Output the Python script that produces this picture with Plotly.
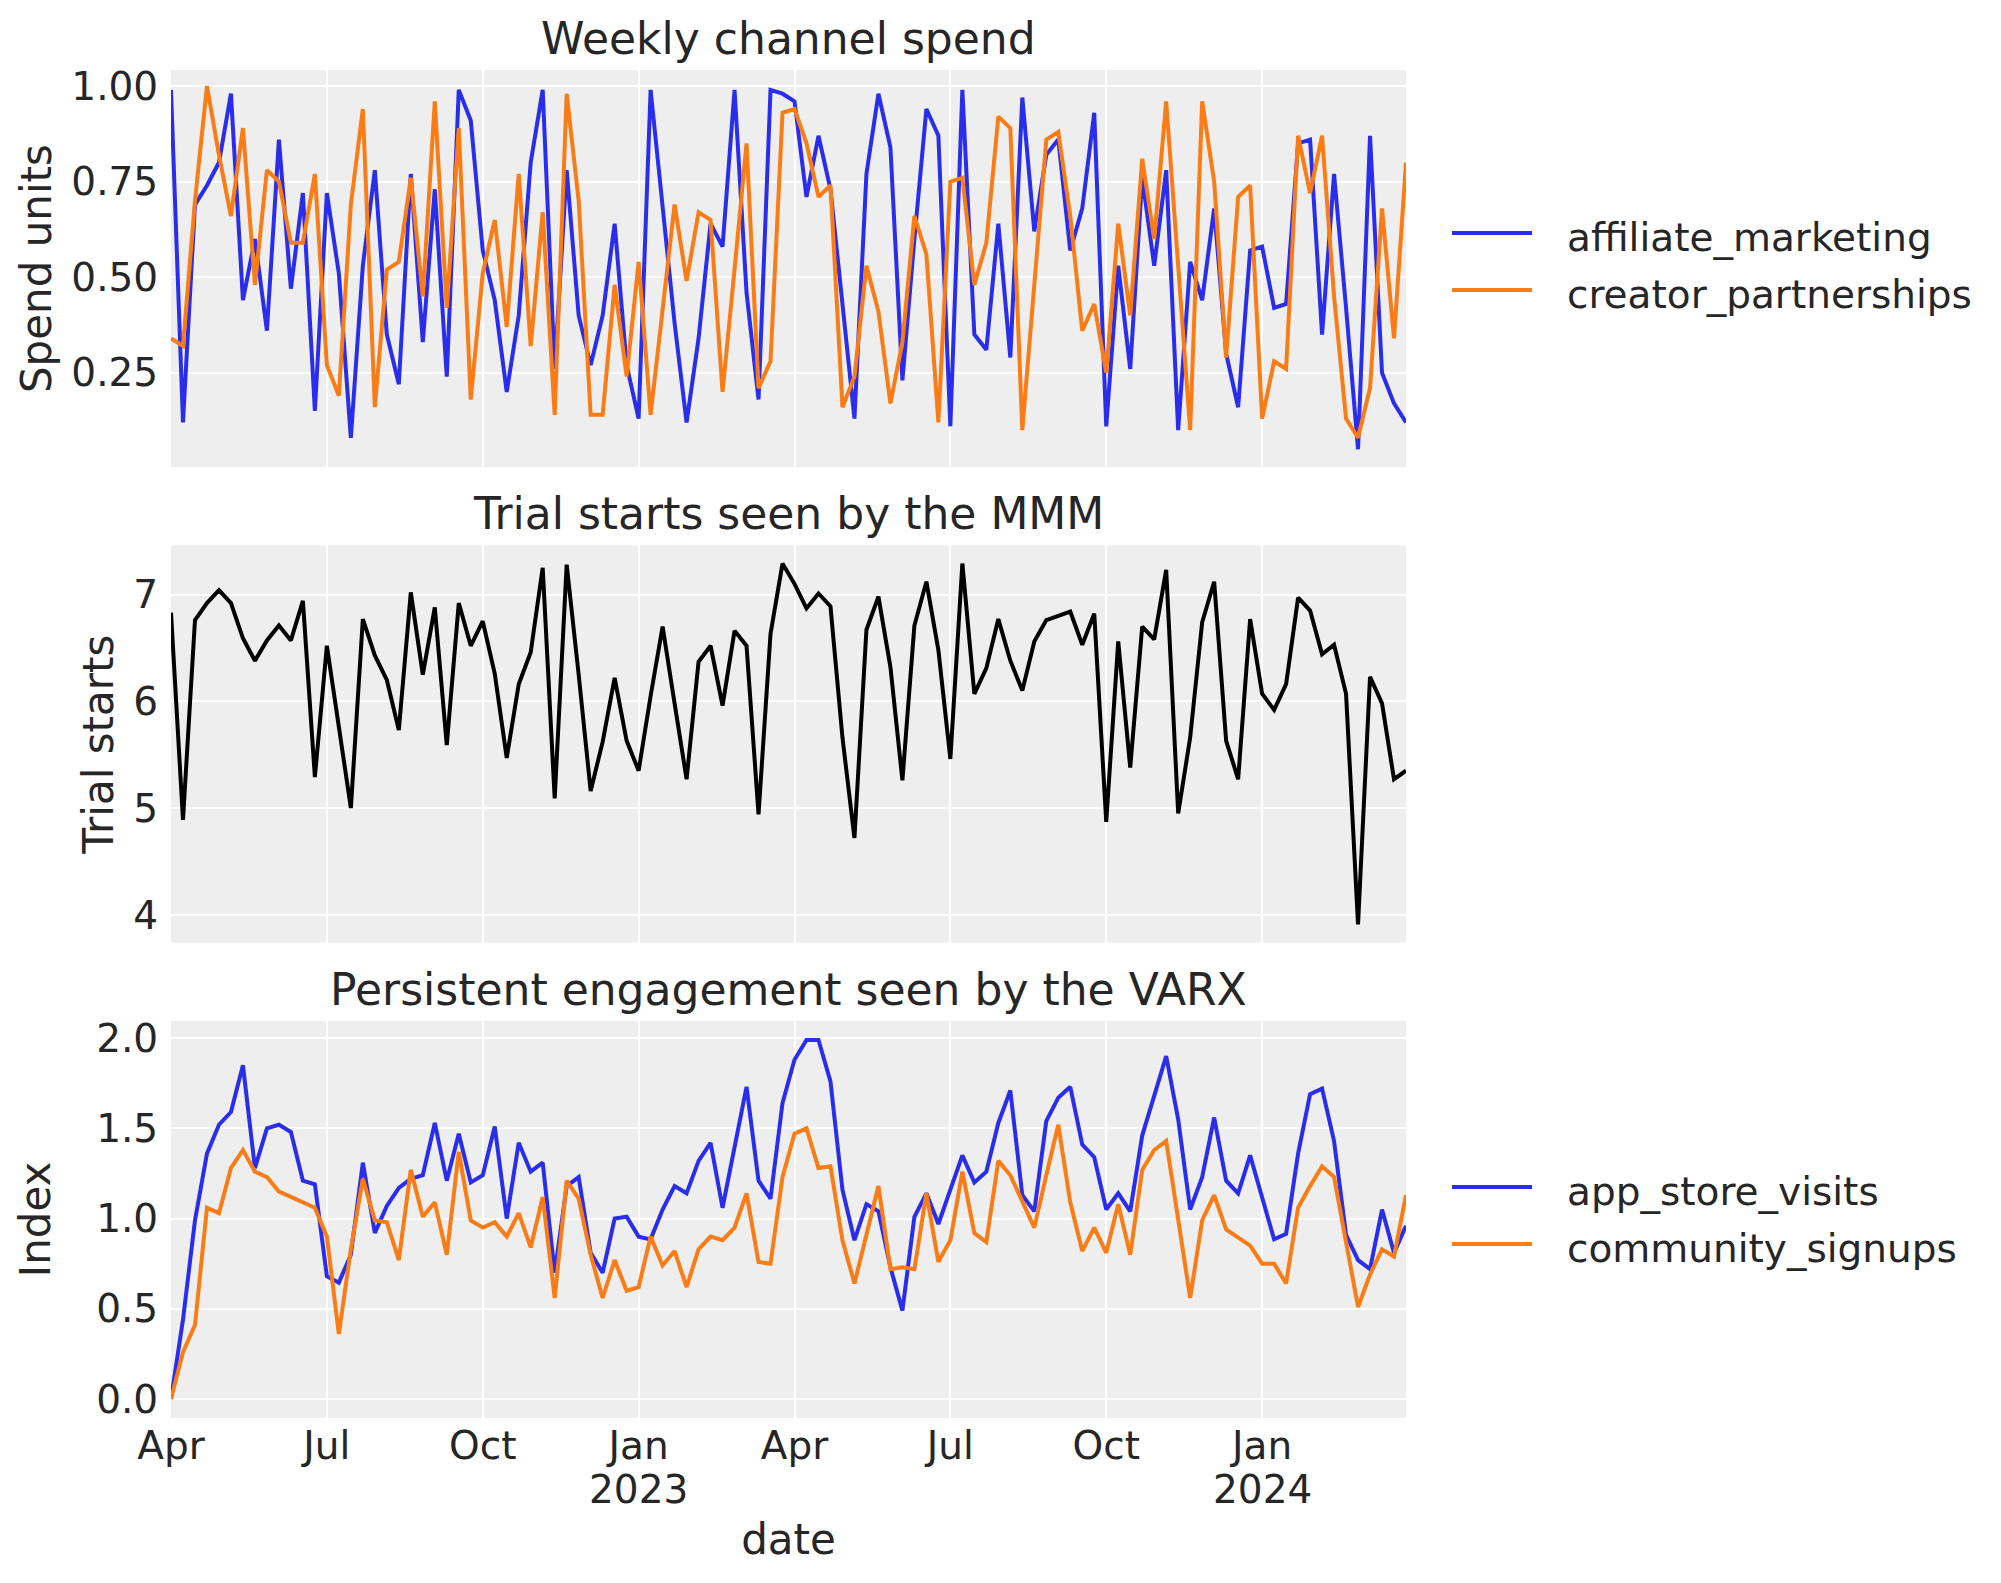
"""Weekly spend, trial starts and engagement - three stacked panels."""

import pandas as pd
import plotly.graph_objects as go
from plotly.subplots import make_subplots


# Weekly dates (104 weeks)
dates = pd.date_range("2022-04-03", periods=104, freq="W-SUN")

affiliate_marketing = [
    0.99, 0.12, 0.69, 0.74, 0.80, 0.98, 0.44, 0.60, 0.36, 0.86,
    0.47, 0.72, 0.15, 0.72, 0.51, 0.08, 0.53, 0.78, 0.35, 0.22,
    0.77, 0.33, 0.73, 0.24, 0.99, 0.91, 0.57, 0.44, 0.20, 0.40,
    0.80, 0.99, 0.26, 0.78, 0.40, 0.27, 0.40, 0.64, 0.27, 0.13,
    0.99, 0.68, 0.38, 0.12, 0.34, 0.64, 0.58, 0.99, 0.46, 0.18,
    0.99, 0.98, 0.96, 0.71, 0.87, 0.73, 0.43, 0.13, 0.77, 0.98,
    0.84, 0.23, 0.60, 0.94, 0.87, 0.11, 0.99, 0.35, 0.31, 0.64,
    0.29, 0.97, 0.62, 0.82, 0.86, 0.57, 0.68, 0.93, 0.11, 0.53,
    0.26, 0.76, 0.53, 0.78, 0.10, 0.54, 0.44, 0.68, 0.30, 0.16,
    0.57, 0.58, 0.42, 0.43, 0.85, 0.86, 0.35, 0.77, 0.42, 0.05,
    0.87, 0.25, 0.17, 0.12,
]

creator_partnerships = [
    0.34, 0.32, 0.70, 1.00, 0.82, 0.66, 0.89, 0.48, 0.78, 0.75,
    0.59, 0.59, 0.77, 0.27, 0.19, 0.69, 0.94, 0.16, 0.52, 0.54,
    0.76, 0.45, 0.96, 0.42, 0.89, 0.18, 0.51, 0.65, 0.37, 0.77,
    0.32, 0.67, 0.14, 0.98, 0.70, 0.14, 0.14, 0.48, 0.24, 0.54,
    0.14, 0.42, 0.69, 0.49, 0.67, 0.65, 0.20, 0.52, 0.85, 0.21,
    0.28, 0.93, 0.94, 0.85, 0.71, 0.74, 0.16, 0.24, 0.53, 0.41,
    0.17, 0.33, 0.66, 0.56, 0.12, 0.75, 0.76, 0.48, 0.59, 0.92,
    0.89, 0.10, 0.48, 0.86, 0.88, 0.66, 0.36, 0.43, 0.25, 0.64,
    0.40, 0.81, 0.60, 0.96, 0.53, 0.10, 0.96, 0.75, 0.29, 0.71,
    0.74, 0.13, 0.28, 0.26, 0.87, 0.72, 0.87, 0.45, 0.13, 0.08,
    0.21, 0.68, 0.34, 0.80,
]

trial_starts = [
    6.83, 4.89, 6.76, 6.92, 7.04, 6.92, 6.59, 6.38, 6.57, 6.71,
    6.57, 6.94, 5.29, 6.52, 5.76, 5.00, 6.77, 6.43, 6.20, 5.73,
    7.02, 6.25, 6.88, 5.59, 6.92, 6.52, 6.75, 6.26, 5.47, 6.16,
    6.46, 7.25, 5.09, 7.28, 6.25, 5.16, 5.62, 6.22, 5.63, 5.35,
    6.05, 6.70, 5.98, 5.27, 6.37, 6.52, 5.96, 6.66, 6.52, 4.94,
    6.63, 7.29, 7.10, 6.87, 7.01, 6.89, 5.66, 4.72, 6.67, 6.98,
    6.32, 5.26, 6.71, 7.12, 6.48, 5.46, 7.29, 6.07, 6.31, 6.77,
    6.38, 6.10, 6.56, 6.76, 6.80, 6.84, 6.53, 6.82, 4.87, 6.56,
    5.38, 6.70, 6.58, 7.23, 4.95, 5.66, 6.74, 7.12, 5.63, 5.27,
    6.77, 6.07, 5.92, 6.16, 6.97, 6.85, 6.44, 6.53, 6.07, 3.91,
    6.23, 5.98, 5.27, 5.35,
]

app_store_visits = [
    0.00, 0.44, 0.99, 1.36, 1.52, 1.59, 1.85, 1.28, 1.50, 1.52,
    1.48, 1.21, 1.19, 0.68, 0.645, 0.80, 1.31, 0.92, 1.07, 1.17,
    1.22, 1.24, 1.53, 1.21, 1.47, 1.20, 1.24, 1.51, 1.00, 1.42,
    1.26, 1.31, 0.70, 1.18, 1.23, 0.81, 0.70, 1.00, 1.01, 0.90,
    0.885, 1.05, 1.18, 1.14, 1.32, 1.42, 1.06, 1.40, 1.73, 1.21,
    1.11, 1.64, 1.88, 1.99, 1.99, 1.76, 1.16, 0.88, 1.08, 1.04,
    0.73, 0.49, 1.01, 1.14, 0.97, 1.16, 1.35, 1.20, 1.26, 1.53,
    1.71, 1.13, 1.04, 1.54, 1.67, 1.73, 1.41, 1.34, 1.05, 1.14,
    1.04, 1.46, 1.68, 1.90, 1.55, 1.05, 1.23, 1.56, 1.21, 1.14,
    1.35, 1.11, 0.885, 0.915, 1.36, 1.69, 1.72, 1.43, 0.91, 0.77,
    0.72, 1.05, 0.81, 0.96,
]

community_signups = [
    0.00, 0.26, 0.41, 1.06, 1.03, 1.28, 1.38, 1.26, 1.23, 1.15,
    1.12, 1.09, 1.06, 0.90, 0.36, 0.83, 1.22, 0.99, 0.98, 0.77,
    1.27, 1.01, 1.09, 0.80, 1.37, 0.99, 0.95, 0.98, 0.90, 1.03,
    0.84, 1.12, 0.56, 1.21, 1.11, 0.80, 0.56, 0.77, 0.60, 0.62,
    0.90, 0.74, 0.82, 0.62, 0.83, 0.90, 0.88, 0.95, 1.14, 0.76,
    0.75, 1.23, 1.47, 1.50, 1.28, 1.29, 0.88, 0.64, 0.91, 1.18,
    0.72, 0.73, 0.72, 1.14, 0.76, 0.88, 1.26, 0.92, 0.87, 1.32,
    1.24, 1.10, 0.95, 1.24, 1.52, 1.09, 0.82, 0.95, 0.81, 1.08,
    0.80, 1.27, 1.38, 1.43, 0.99, 0.56, 0.99, 1.13, 0.94, 0.895,
    0.85, 0.75, 0.75, 0.64, 1.06, 1.18, 1.29, 1.23, 0.86, 0.51,
    0.69, 0.83, 0.79, 1.13,
]

# Quarter tick labels (one tick every 13 weeks), years under the Jan ticks
quarter_labels = ["Apr", "Jul", "Oct", "Jan", "Apr", "Jul", "Oct", "Jan"]
year_labels = ["2023", "2024"]
year_tick_idx = [39, 91]

panel_titles = ["Weekly channel spend", "Trial starts seen by the MMM",
                "Persistent engagement seen by the VARX"]

BLUE = "#2a2eec"
ORANGE = "#fa7c17"
TEXT = "#262626"
FONT = "DejaVu Sans"

# Figure geometry (px). The page body adds an 8 px margin, so the figure
# is drawn 8 px smaller on each side and all page positions are offset.
PAGE_OFF = 8
W, H = 2001 - 2 * PAGE_OFF, 1583 - 2 * PAGE_OFF
M_L, M_R, M_T, M_B = 163, 587, 62, 157
PLOT_W = W - M_L - M_R
PLOT_H = H - M_T - M_B


def px_x(x):
    """Page pixel x to paper x."""
    return (x - PAGE_OFF - M_L) / PLOT_W


def px_y(y):
    """Page pixel y (from top) to paper y."""
    return (H - M_B - (y - PAGE_OFF)) / PLOT_H


fig = make_subplots(rows=3, cols=1, shared_xaxes=True,
                    vertical_spacing=0.058)

line_w = 4

fig.add_trace(go.Scatter(x=dates, y=affiliate_marketing, mode="lines",
                         line={"color": BLUE, "width": line_w},
                         name="affiliate_marketing"),
              row=1, col=1)
fig.add_trace(go.Scatter(x=dates, y=creator_partnerships, mode="lines",
                         line={"color": ORANGE, "width": line_w},
                         name="creator_partnerships"),
              row=1, col=1)
fig.add_trace(go.Scatter(x=dates, y=trial_starts, mode="lines",
                         line={"color": "black", "width": line_w},
                         name="trial_starts"),
              row=2, col=1)
fig.add_trace(go.Scatter(x=dates, y=app_store_visits, mode="lines",
                         line={"color": BLUE, "width": line_w},
                         name="app_store_visits"),
              row=3, col=1)
fig.add_trace(go.Scatter(x=dates, y=community_signups, mode="lines",
                         line={"color": ORANGE, "width": line_w},
                         name="community_signups"),
              row=3, col=1)

axis_common = {
    "showgrid": True,
    "gridcolor": "white",
    "gridwidth": 2.2,
    "zeroline": False,
    "showline": False,
    "ticks": "outside",
    "tickcolor": "rgba(0,0,0,0)",
    "tickfont": {"size": 39, "color": TEXT, "family": FONT},
}

for r in (1, 2, 3):
    fig.update_xaxes(range=[dates[0], dates[-1]],
                     tickvals=list(dates[::13]), ticktext=quarter_labels,
                     ticklen=1, ticklabelstandoff=-8,
                     row=r, col=1, **axis_common)

fig.update_xaxes(title={"text": "date", "font": {"size": 42, "color": TEXT},
                        "standoff": 57},
                 row=3, col=1)

fig.update_yaxes(range=[0.003, 1.042], tickvals=[0.25, 0.5, 0.75, 1.0],
                 tickformat=".2f", ticklen=4,
                 title={"text": "Spend units",
                        "font": {"size": 42, "color": TEXT}, "standoff": 6},
                 row=1, col=1, **axis_common)
fig.update_yaxes(range=[3.74, 7.46], tickvals=[4, 5, 6, 7], ticklen=4,
                 title={"text": "Trial starts",
                        "font": {"size": 42, "color": TEXT}, "standoff": 6},
                 row=2, col=1, **axis_common)
fig.update_yaxes(range=[-0.105, 2.096], tickvals=[0, 0.5, 1.0, 1.5, 2.0],
                 tickformat=".1f", ticklen=4,
                 title={"text": "Index",
                        "font": {"size": 42, "color": TEXT}, "standoff": 32},
                 row=3, col=1, **axis_common)

# Year labels under the January ticks
for idx, year in zip(year_tick_idx, year_labels):
    fig.add_annotation(text=year, x=dates[idx], y=0, xref="x3", yref="paper",
                       xanchor="center", yanchor="top", yshift=-47,
                       showarrow=False,
                       font={"size": 39, "color": TEXT, "family": FONT})

# Panel titles
domains = [fig.layout.yaxis.domain, fig.layout.yaxis2.domain,
           fig.layout.yaxis3.domain]
for title, dom in zip(panel_titles, domains):
    fig.add_annotation(text=title, x=0.5, y=dom[1], xref="paper",
                       yref="paper", xanchor="center", yanchor="bottom",
                       yshift=4, showarrow=False,
                       font={"size": 44, "color": TEXT, "family": FONT})

# Legends drawn to the right of panels 1 and 3
legend_rows = [
    ("affiliate_marketing", BLUE, 233),
    ("creator_partnerships", ORANGE, 290),
    ("app_store_visits", BLUE, 1187),
    ("community_signups", ORANGE, 1244),
]
for label, color, y in legend_rows:
    fig.add_shape(type="line", xref="paper", yref="paper",
                  x0=px_x(1452), x1=px_x(1532), y0=px_y(y), y1=px_y(y),
                  line={"color": color, "width": line_w})
    fig.add_annotation(text=label, x=px_x(1565), y=px_y(y), xref="paper",
                       yref="paper", xanchor="left", yanchor="middle",
                       yshift=-4, showarrow=False,
                       font={"size": 39, "color": TEXT, "family": FONT})

fig.update_layout(
    width=W,
    height=H,
    margin={"l": M_L, "r": M_R, "t": M_T, "b": M_B},
    plot_bgcolor="#eeeeee",
    paper_bgcolor="white",
    font={"family": FONT, "color": TEXT},
    showlegend=False,
)

fig.write_html("out.html")
